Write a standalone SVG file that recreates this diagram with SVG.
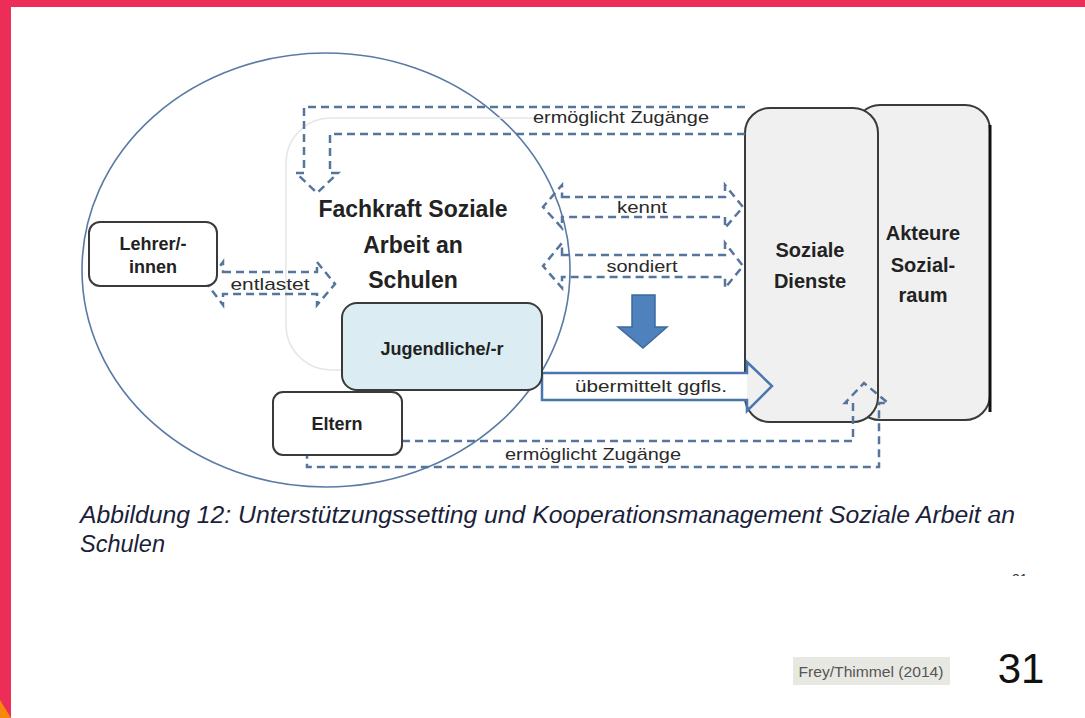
<svg xmlns="http://www.w3.org/2000/svg" width="1085" height="718" viewBox="0 0 1085 718">
  <style>
    .node { stroke: #3a3a3a; stroke-width: 2; }
    .lbl { font-family: "Liberation Sans", Arial, sans-serif; font-weight: bold; fill: #222; text-anchor: middle; }
    .small { font-family: "Liberation Sans", Arial, sans-serif; fill: #2a2a2a; text-anchor: middle; font-size: 17px; }
    .dash { fill: none; stroke: #56759c; stroke-width: 2.5; stroke-dasharray: 8 5; }
  </style>
  <defs>
    <clipPath id="cutMark"><rect x="1005" y="568" width="40" height="8"/></clipPath>
  </defs>

  <!-- page frame -->
  <rect x="0" y="0" width="1085" height="718" fill="#ffffff"/>
  <rect x="0" y="0" width="1085" height="7" fill="#eb2d58"/>
  <rect x="0" y="0" width="11" height="718" fill="#eb2d58"/>
  <polygon points="0,700 11,718 0,718" fill="#f5890a"/>

  <!-- school circle -->
  <ellipse id="schule" cx="326" cy="270" rx="244" ry="217" fill="none" stroke="#5a7aa6" stroke-width="1.6"/>

  <!-- faint frame behind the social worker label -->
  <path d="M342,370 H331 A45,45 0 0 1 286,325 V163 A45,45 0 0 1 331,118 H540" fill="none" stroke="#e6e6e6" stroke-width="1.5"/>

  <!-- right-hand boxes -->
  <g id="akteure">
    <rect x="855" y="105" width="135" height="315" rx="25" fill="#f0f0f0" class="node"/>
    <path d="M990,125 V412" stroke="#111" stroke-width="3"/>
    <text class="lbl" font-size="20" x="923" y="240">Akteure</text>
    <text class="lbl" font-size="20" x="923" y="272">Sozial-</text>
    <text class="lbl" font-size="20" x="923" y="302">raum</text>
  </g>
  <g id="soziale-dienste">
    <rect x="745" y="108" width="133" height="314" rx="25" fill="#f0f0f0" class="node"/>
    <text class="lbl" font-size="20" x="810" y="257">Soziale</text>
    <text class="lbl" font-size="20" x="810" y="288">Dienste</text>
  </g>

  <!-- connectors -->
  <g id="connectors">
    <path class="dash" d="M745,107 H304 V173 L296,173 L317,193 L338,173 L330,173 V134 H745"/>
    <path class="dash" d="M562,197 H725 V185 L743,207 L725,228 V217 H562 V228 L543,207 L562,185 Z"/>
    <path class="dash" d="M562,255 H725 V243 L743,266 L725,288 V277 H562 V288 L543,266 L562,243 Z"/>
    <path class="dash" d="M223,272 H317 V262 L335,284 L317,305 V294 H223 V305 L207,284 L223,262 Z"/>
    <path class="dash" d="M402,441 H853 V403 L845,403 L864,383 L888,403 L879,403 V467 H307 V455"/>
    <rect x="542" y="373" width="205" height="27" fill="#ffffff"/>
    <path d="M542,373 H747 V362 L772,386 L747,411 V400 H542 Z" fill="none" stroke="#4a76b0" stroke-width="2.5"/>
    <polygon points="632,295 655,295 655,327 667,327 643,348 618,327 632,327" fill="#4f81bd" stroke="#3d6a9f" stroke-width="1.5"/>
    <text class="small" x="621" y="123" textLength="176" lengthAdjust="spacingAndGlyphs">ermöglicht Zugänge</text>
    <text class="small" x="642" y="213" textLength="50" lengthAdjust="spacingAndGlyphs">kennt</text>
    <text class="small" x="642" y="272" textLength="71" lengthAdjust="spacingAndGlyphs">sondiert</text>
    <text class="small" x="270" y="290" textLength="79" lengthAdjust="spacingAndGlyphs">entlastet</text>
    <text class="small" x="651" y="392" textLength="152" lengthAdjust="spacingAndGlyphs">übermittelt ggfls.</text>
    <text class="small" x="593" y="460" textLength="176" lengthAdjust="spacingAndGlyphs">ermöglicht Zugänge</text>
  </g>

  <!-- nodes -->
  <g id="fachkraft">
    <text class="lbl" font-size="23" x="413" y="217">Fachkraft Soziale</text>
    <text class="lbl" font-size="23" x="413" y="253">Arbeit an</text>
    <text class="lbl" font-size="23" x="413" y="288">Schulen</text>
  </g>
  <g id="lehrer">
    <rect x="89" y="222" width="128" height="64" rx="11" fill="#ffffff" class="node"/>
    <text class="lbl" font-size="18" x="153" y="250">Lehrer/-</text>
    <text class="lbl" font-size="18" x="153" y="273">innen</text>
  </g>
  <g id="jugendliche">
    <rect x="342" y="303" width="200" height="87" rx="15" fill="#dbedf3" class="node"/>
    <text class="lbl" font-size="18" x="442" y="355">Jugendliche/-r</text>
  </g>
  <g id="eltern">
    <rect x="273" y="392" width="129" height="63" rx="10" fill="#ffffff" class="node"/>
    <text class="lbl" font-size="18" x="337" y="430">Eltern</text>
  </g>

  <!-- caption and footer -->
  <g id="caption" font-family="Liberation Sans, Arial, sans-serif" font-style="italic" font-size="23" fill="#1b1f3a">
    <text x="80" y="523" textLength="935" lengthAdjust="spacingAndGlyphs">Abbildung 12: Unterstützungssetting und Kooperationsmanagement Soziale Arbeit an</text>
    <text x="80" y="552" textLength="85" lengthAdjust="spacingAndGlyphs">Schulen</text>
  </g>
  <text x="1012" y="584" font-family="Liberation Sans, Arial, sans-serif" font-size="14" fill="#333" clip-path="url(#cutMark)">31</text>

  <g id="source">
    <rect x="793" y="657" width="157" height="28" fill="#e8e8e3"/>
    <text x="871" y="677" font-family="Liberation Sans, Arial, sans-serif" font-size="15" fill="#555" text-anchor="middle" textLength="145" lengthAdjust="spacingAndGlyphs">Frey/Thimmel (2014)</text>
  </g>
  <text id="page-number" x="1021" y="683" font-family="Liberation Sans, Arial, sans-serif" font-size="42" fill="#111" text-anchor="middle">31</text>
</svg>
